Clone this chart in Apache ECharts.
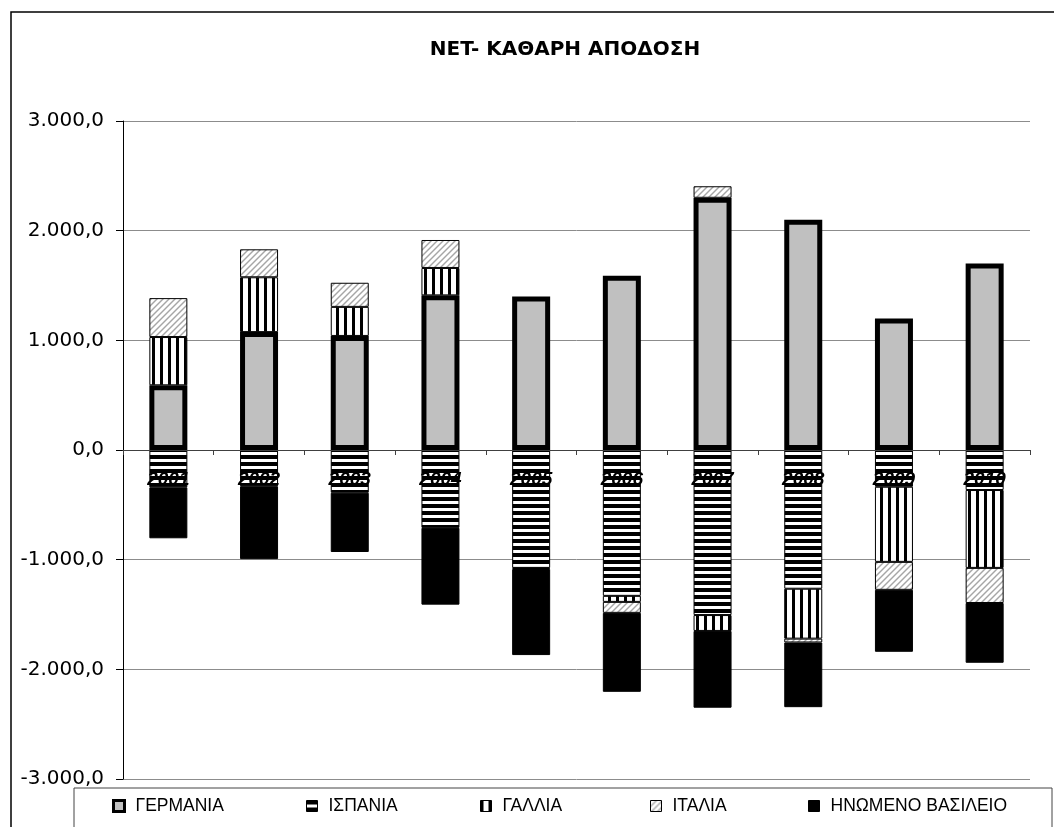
<!DOCTYPE html>
<html>
<head>
    <meta http-equiv="Content-Type" content="text/html; charset=utf-8">
    <script type="text/javascript" src="https://cdn.jsdelivr.net/npm/echarts@6/dist/echarts.min.js"></script>
    <style>
        html, body { margin: 0; padding: 0; background: #fff; }
        #dom { width: 1054px; height: 827px; }
    </style>
</head>
<body>
<div id="dom"></div>
<script type="text/javascript">
    var years = ['2001', '2002', '2003', '2004', '2005', '2006', '2007', '2008', '2009', '2010'];
    var germany = [590, 1075, 1040, 1410, 1400, 1590, 2300, 2100, 1200, 1700];
    var spain = [-340, -330, -390, -710, -1075, -1330, -1505, -1265, -335, -365];
    var france = [440, 500, 265, 250, '-', -55, -145, -455, -685, -710];
    var italy = [355, 255, 220, 255, -10, -100, 105, -35, -255, -320];
    var uk = [-465, -665, -540, -700, -785, -720, -700, -590, -565, -545];
    var names = ['ΓΕΡΜΑΝΙΑ', 'ΙΣΠΑΝΙΑ', 'ΓΑΛΛΙΑ', 'ΙΤΑΛΙΑ', 'ΗΝΩΜΕΝΟ ΒΑΣΙΛΕΙΟ'];
    var yTicks = [-3000, 3000, 1000];

    // fill patterns like the excel chart
    function makePattern(w, h, draw) {
        var c = document.createElement('canvas');
        c.width = w;
        c.height = h;
        var ctx = c.getContext('2d');
        ctx.fillStyle = '#fff';
        ctx.fillRect(0, 0, w, h);
        draw(ctx);
        return {image: c, repeat: 'repeat'};
    }
    var hStripes = makePattern(8, 7, function (ctx) {
        ctx.fillStyle = '#000';
        ctx.fillRect(0, 0, 8, 4);
    });
    var vStripes = makePattern(8, 8, function (ctx) {
        ctx.fillStyle = '#000';
        ctx.fillRect(0, 0, 3, 8);
    });
    var hatch = makePattern(6, 6, function (ctx) {
        ctx.strokeStyle = '#a6a6a6';
        ctx.lineWidth = 1.4;
        for (var k = -6; k <= 6; k += 6) {
            ctx.beginPath();
            ctx.moveTo(k - 1, 7);
            ctx.lineTo(k + 7, -1);
            ctx.stroke();
        }
    });

    function fmt(v) {
        var s = Math.abs(v).toFixed(0).replace(/\B(?=(\d{3})+(?!\d))/g, '.');
        return (v < 0 ? '-' : '') + s + ',0';
    }

    var fills = ['#c0c0c0', hStripes, vStripes, hatch, '#000'];
    var datas = [germany, spain, france, italy, uk];
    var series = [];
    for (var i = 0; i < names.length; i++) {
        series.push({
            name: names[i],
            type: 'bar',
            stack: 'net',
            barWidth: 38,
            data: datas[i],
            itemStyle: {
                color: fills[i],
                borderColor: '#000',
                borderWidth: i == 0 ? 5 : 1
            }
        });
    }

    var legendX = [112, 306, 480, 650, 808];
    var legends = [];
    for (var j = 0; j < names.length; j++) {
        legends.push({
            data: [names[j]],
            left: legendX[j],
            top: 797,
            padding: 0,
            icon: 'rect',
            itemWidth: 11,
            itemHeight: 11,
            selectedMode: false,
            itemStyle: {borderWidth: j == 0 ? 3 : 1, borderColor: '#000'},
            textStyle: {
                fontFamily: 'Liberation Sans',
                fontSize: 17.5,
                color: '#000',
                padding: [0, 0, 0, 6]
            }
        });
    }

    var myChart = echarts.init(document.getElementById('dom'));
    var option = {
        animation: false,
        backgroundColor: '#fff',
        grid: {left: 123, right: 24, top: 121, bottom: 48},
        legend: legends,
        xAxis: {
            type: 'category',
            data: years,
            z: 10,
            // put the axis at value 0 (grid bottom is -3000)
            offset: -329,
            axisLine: {onZero: false, lineStyle: {color: '#404040', width: 1}},
            axisTick: {show: true, length: 5, lineStyle: {color: '#404040'}},
            axisLabel: {
                margin: 20,
                color: '#000',
                fontFamily: 'Liberation Sans',
                fontSize: 19,
                fontWeight: 'bold',
                fontStyle: 'italic'
            },
            splitLine: {show: false}
        },
        yAxis: {
            type: 'value',
            min: yTicks[0],
            max: yTicks[1],
            interval: yTicks[2],
            axisLine: {show: true, lineStyle: {color: '#000', width: 1}},
            axisTick: {show: true, length: 7, lineStyle: {color: '#000'}},
            axisLabel: {
                margin: 19,
                color: '#000',
                fontFamily: 'DejaVu Sans',
                fontSize: 20,
                formatter: fmt
            },
            splitLine: {lineStyle: {color: '#8c8c8c', width: 1}}
        },
        graphic: [
            {
                type: 'rect',
                shape: {x: 11, y: 12, width: 1100, height: 900},
                style: {fill: 'transparent', stroke: '#000', lineWidth: 1.5},
                silent: true
            },
            {
                type: 'rect',
                shape: {x: 74, y: 788, width: 978, height: 100},
                style: {fill: 'transparent', stroke: '#444', lineWidth: 1},
                silent: true
            },
            {
                type: 'text',
                x: 565,
                y: 50,
                style: {
                    text: 'NET- ΚΑΘΑΡΗ ΑΠΟΔΟΣΗ',
                    fontFamily: 'DejaVu Sans',
                    fontWeight: 'bold',
                    fontSize: 20,
                    fill: '#000',
                    textAlign: 'center',
                    textVerticalAlign: 'middle'
                }
            }
        ],
        series: series
    };
    myChart.setOption(option);
</script>
</body>
</html>
